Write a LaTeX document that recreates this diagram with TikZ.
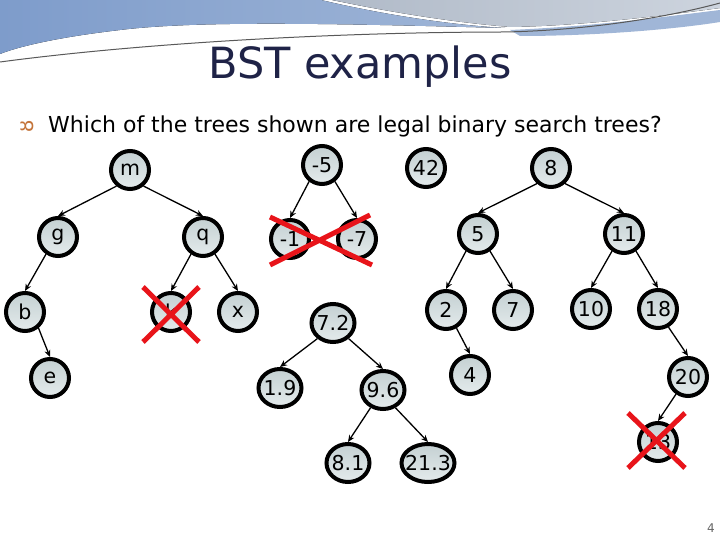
\documentclass[tikz,border=0pt]{standalone}
\usepackage{fontspec}
\setmainfont{DejaVu Sans}
\usetikzlibrary{shapes.geometric,arrows.meta}
\definecolor{titlec}{RGB}{31,35,71}
\definecolor{nodetop}{RGB}{196,208,210}
\definecolor{nodebot}{RGB}{228,235,236}
\definecolor{xred}{RGB}{232,20,26}
\definecolor{bandL}{RGB}{126,156,203}
\definecolor{bandM}{RGB}{160,182,215}
\definecolor{bandR}{RGB}{176,186,200}
\definecolor{bandR2}{RGB}{205,212,222}
\definecolor{bulletc}{RGB}{196,116,58}
\newcommand{\lab}[1]{\makebox[0pt]{#1}}
\tikzset{
  bst/.style={ellipse, draw=black, line width=4pt, minimum width=38pt, minimum height=38pt,
    inner sep=0pt, top color=nodetop, bottom color=nodebot, font=\fontsize{20.5}{20.5}\selectfont},
  wide/.style={minimum width=43pt},
  wider/.style={minimum width=53pt},
  arr/.style={-{Stealth[length=7pt,width=6pt]}, line width=1.3pt},
  xmark/.style={draw=xred, line width=5pt}
}
\begin{document}
\begin{tikzpicture}[x=1pt,y=-1pt]
\useasboundingbox (0,0) rectangle (720,540);
\fill[white] (0,0) rectangle (720,540);
% top decoration
\fill[left color=bandL, right color=bandM] (0,0) -- (321,0) .. controls (380,14) and (450,25) .. (505,28)
   .. controls (350,24) and (200,20) .. (120,30) .. controls (60,37) and (20,46) .. (0,54) -- cycle;
\fill[left color=bandR, right color=bandR2] (332,0) -- (720,0) -- (720,8) .. controls (660,16) and (580,26) .. (510,27)
   .. controls (450,22) and (390,12) .. (332,0) -- cycle;
\fill[bandM] (510,30) .. controls (600,26) and (670,16) .. (720,10) -- (720,22) .. controls (670,30) and (590,36) .. (520,36) -- cycle;
\draw[gray!70!black, line width=1pt] (0,62) .. controls (150,42) and (350,32) .. (505,32) .. controls (600,30) and (680,14) .. (720,3);
% title and text
\node[text=titlec, font=\fontsize{43}{43}\selectfont] (title) at (360,67) {BST examples};
\node[anchor=base west, font=\fontsize{22}{22}\selectfont, inner sep=0pt] (q) at (48,133) {Which of the trees shown are legal binary search trees?};
\node[anchor=base, text=bulletc, font=\fontsize{20}{20}\selectfont, inner sep=0pt] (bul) at (27,133) {\rotatebox{90}{ȣ}};
\node[text=gray!80!black, font=\fontsize{12}{12}\selectfont] (pg) at (711,528) {4};
% tree 1
\node[bst] (m) at (130,170) {\lab{m}};
\node[bst] (g) at (58,237) {\lab{g}};
\node[bst] (qq) at (203,237) {\lab{q}};
\node[bst] (b) at (25,312) {\lab{b}};
\node[bst] (k) at (171,312) {\lab{k}};
\node[bst] (x) at (238,312) {\lab{x}};
\node[bst] (e) at (50,378) {\lab{e}};
\draw[arr] (m.-130) -- (g.north);
\draw[arr] (m.-50) -- (qq.north);
\draw[arr] (g.-125) -- (b.north);
\draw[arr] (b.-50) -- (e.north);
\draw[arr] (qq.-125) -- (k.north);
\draw[arr] (qq.-55) -- (x.north);
% tree 2
\node[bst] (n5) at (322,165) {\lab{-5}};
\node[bst] (n1) at (290,239) {\lab{-1}};
\node[bst] (n7) at (357,239) {\lab{-7}};
\draw[arr] (n5.-128) -- (n1.north);
\draw[arr] (n5.-52) -- (n7.north);
% tree 3
\node[bst] (n42) at (426,168) {\lab{42}};
% tree 4
\node[bst] (a8) at (551,168) {\lab{8}};
\node[bst] (a5) at (478,234) {\lab{5}};
\node[bst] (a11) at (624,234) {\lab{11}};
\node[bst] (a2) at (446,310) {\lab{2}};
\node[bst] (a7) at (513,310) {\lab{7}};
\node[bst] (a10) at (591,309) {\lab{10}};
\node[bst] (a18) at (658,309) {\lab{18}};
\node[bst] (a4) at (470,375) {\lab{4}};
\node[bst] (a20) at (688,377) {\lab{20}};
\node[bst] (a13) at (658,442) {\lab{13}};
\draw[arr] (a8.-132) -- (a5.north);
\draw[arr] (a8.-48) -- (a11.north);
\draw[arr] (a5.-125) -- (a2.north);
\draw[arr] (a5.-55) -- (a7.north);
\draw[arr] (a11.-125) -- (a10.north);
\draw[arr] (a11.-55) -- (a18.north);
\draw[arr] (a2.-60) -- (a4.north);
\draw[arr] (a18.-60) -- (a20.north);
\draw[arr] (a20.-125) -- (a13.north);
% tree 5
\node[bst, wide] (t72) at (333,323) {\lab{7.2}};
\node[bst, wide] (t19) at (280,388) {\lab{1.9}};
\node[bst, wide] (t96) at (383,390) {\lab{9.6}};
\node[bst, wide] (t81) at (348,463) {\lab{8.1}};
\node[bst, wider] (t213) at (428,463) {\lab{21.3}};
\draw[arr] (t72.-135) -- (t19.north);
\draw[arr] (t72.-45) -- (t96.north);
\draw[arr] (t96.-125) -- (t81.north);
\draw[arr] (t96.-55) -- (t213.north);
% red crosses
\draw[xmark] (143,287) -- (199,342) (199,287) -- (143,342);
\draw[xmark] (270,217) -- (372,265) (370,215) -- (270,265);
\draw[xmark] (628,413) -- (685,468) (685,413) -- (628,468);
\end{tikzpicture}
\end{document}
